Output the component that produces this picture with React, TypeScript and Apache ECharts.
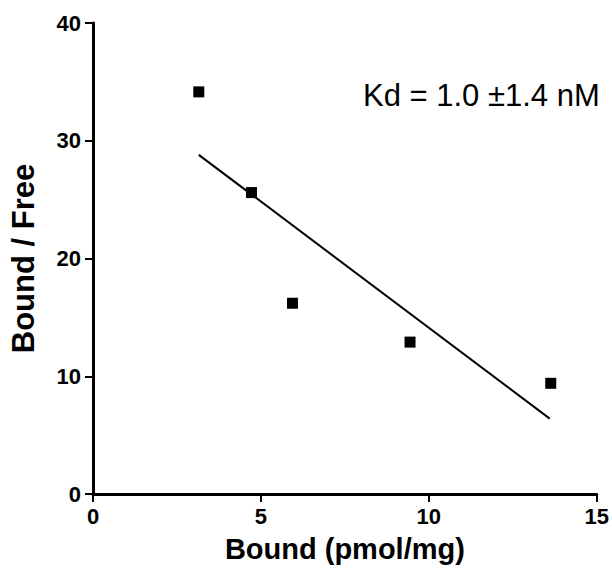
import React, { useEffect, useRef } from "react";
import * as echarts from "echarts";

const boundX = [3.15, 4.72, 5.94, 9.44, 13.63];
const boundFree = [34.15, 25.6, 16.2, 12.9, 9.4];
const fitX = [3.15, 13.6];
const fitY = [28.8, 6.4];
const xTicks = [0, 5, 10, 15];
const yTicks = [0, 10, 20, 30, 40];
const xTitle = "Bound (pmol/mg)";
const yTitle = "Bound / Free";
const kdText = "Kd = 1.0 ±1.4 nM";

export default function App() {
  const ref = useRef<HTMLDivElement>(null);
  useEffect(() => {
    if (!ref.current) return;
    const chart = echarts.init(ref.current, null, { renderer: "svg" });
    const labelFont = {
      fontFamily: "Liberation Sans",
      fontWeight: 900,
      fontSize: 22,
      color: "#000",
    };
    chart.setOption({
      animation: false,
      backgroundColor: "#fff",
      grid: { left: 93, right: 14, top: 23, bottom: 72, containLabel: false },
      xAxis: {
        type: "value",
        min: xTicks[0],
        max: xTicks[xTicks.length - 1],
        interval: 5,
        name: xTitle,
        nameLocation: "middle",
        nameGap: 40,
        nameTextStyle: {
          fontFamily: "Liberation Sans",
          fontWeight: "bold",
          fontSize: 29,
          color: "#000",
        },
        axisLine: { show: true, lineStyle: { color: "#000", width: 3 } },
        axisTick: { show: true, length: 8, lineStyle: { color: "#000", width: 2 } },
        axisLabel: { ...labelFont, margin: 11 },
        splitLine: { show: false },
      },
      yAxis: {
        type: "value",
        min: yTicks[0],
        max: yTicks[yTicks.length - 1],
        interval: 10,
        name: yTitle,
        nameLocation: "middle",
        nameGap: 54,
        nameTextStyle: {
          fontFamily: "Liberation Sans",
          fontWeight: "bold",
          fontSize: 31,
          color: "#000",
        },
        axisLine: { show: true, lineStyle: { color: "#000", width: 3 } },
        axisTick: { show: true, length: 8, lineStyle: { color: "#000", width: 2 } },
        axisLabel: { ...labelFont, margin: 12 },
        splitLine: { show: false },
      },
      series: [
        {
          type: "line",
          data: fitX.map((x, i) => [x, fitY[i]]),
          symbol: "none",
          lineStyle: { color: "#000", width: 2 },
          silent: true,
        },
        {
          type: "scatter",
          data: boundX.map((x, i) => [x, boundFree[i]]),
          symbol: "rect",
          symbolSize: 11,
          itemStyle: { color: "#000", opacity: 1 },
        },
      ],
      graphic: [
        {
          type: "text",
          left: 363,
          top: 80,
          style: {
            text: kdText,
            fontFamily: "Liberation Sans",
            fontSize: 31,
            fill: "#000",
          },
        },
      ],
    });
    return () => chart.dispose();
  }, []);
  return (
    <div
      ref={ref}
      style={{ position: "fixed", left: 0, top: 0, width: 612, height: 568 }}
    />
  );
}
